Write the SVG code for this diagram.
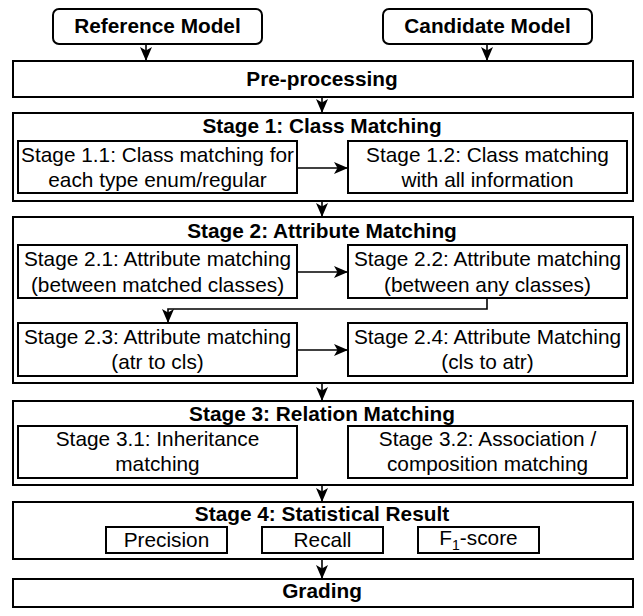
<svg xmlns="http://www.w3.org/2000/svg" width="643" height="616" viewBox="0 0 643 616">
<defs>
<marker id="arr" markerUnits="userSpaceOnUse" markerWidth="15" markerHeight="13" refX="14" refY="6" orient="auto">
<path d="M0,0 L14,6 L0,12 L3.5,6 Z" fill="#000"/>
</marker>
<style>
.box{fill:#fff;stroke:#000;stroke-width:2}
.t{font-family:"Liberation Sans",Arial,sans-serif;font-size:20.8px;fill:#000;text-anchor:middle}
.b{font-weight:bold}
.c{fill:none;stroke:#000;stroke-width:1.6;marker-end:url(#arr)}
</style>
</defs>
<rect width="643" height="616" fill="#fff"/>
<g id="connectors">
<path class="c" d="M146,44 V61"/>
<path class="c" d="M487,44 V61"/>
<path class="c" d="M322,97 V113"/>
<path class="c" d="M322,201 V217"/>
<path class="c" d="M322,383 V401"/>
<path class="c" d="M322,485 V502"/>
<path class="c" d="M322,559 V579"/>
</g>
<g id="reference-model"><rect class="box" x="53" y="9" width="209" height="35" rx="6"/><text class="t b" x="157.5" y="33">Reference Model</text></g>
<g id="candidate-model"><rect class="box" x="383" y="9" width="209" height="35" rx="6"/><text class="t b" x="487.5" y="33">Candidate Model</text></g>
<g id="pre-processing"><rect class="box" x="13" y="61" width="620" height="36"/><text class="t b" x="322" y="86">Pre-processing</text></g>
<g id="stage1"><rect class="box" x="13" y="113" width="620" height="88"/><text class="t b" x="322" y="133">Stage 1: Class Matching</text></g>
<g id="stage1-1"><rect class="box" x="18" y="141" width="279" height="52"/><text class="t" x="157.5" y="162">Stage 1.1: Class matching for</text><text class="t" x="157.5" y="187">each type enum/regular</text></g>
<g id="stage1-2"><rect class="box" x="348" y="141" width="279" height="52"/><text class="t" x="487.5" y="162">Stage 1.2: Class matching</text><text class="t" x="487.5" y="187">with all information</text></g>
<g id="stage2"><rect class="box" x="13" y="217" width="620" height="166"/><text class="t b" x="322" y="238">Stage 2: Attribute Matching</text></g>
<g id="stage2-1"><rect class="box" x="18" y="245" width="279" height="53"/><text class="t" x="157.5" y="266">Stage 2.1: Attribute matching</text><text class="t" x="157.5" y="292">(between matched classes)</text></g>
<g id="stage2-2"><rect class="box" x="348" y="245" width="279" height="53"/><text class="t" x="487.5" y="266">Stage 2.2: Attribute matching</text><text class="t" x="487.5" y="292">(between any classes)</text></g>
<g id="stage2-3"><rect class="box" x="18" y="323" width="279" height="53"/><text class="t" x="157.5" y="344">Stage 2.3: Attribute matching</text><text class="t" x="157.5" y="369">(atr to cls)</text></g>
<g id="stage2-4"><rect class="box" x="348" y="323" width="279" height="53"/><text class="t" x="487.5" y="344">Stage 2.4: Attribute Matching</text><text class="t" x="487.5" y="369">(cls to atr)</text></g>
<g id="stage3"><rect class="box" x="13" y="401" width="620" height="84"/><text class="t b" x="322" y="421">Stage 3: Relation Matching</text></g>
<g id="stage3-1"><rect class="box" x="18" y="426" width="279" height="52"/><text class="t" x="157.5" y="446">Stage 3.1: Inheritance</text><text class="t" x="157.5" y="471">matching</text></g>
<g id="stage3-2"><rect class="box" x="348" y="426" width="279" height="52"/><text class="t" x="487.5" y="446">Stage 3.2: Association /</text><text class="t" x="487.5" y="471">composition matching</text></g>
<g id="stage4"><rect class="box" x="13" y="502" width="620" height="57"/><text class="t b" x="322" y="521">Stage 4: Statistical Result</text></g>
<g id="precision"><rect class="box" x="106" y="527" width="121" height="26"/><text class="t" x="166.5" y="547">Precision</text></g>
<g id="recall"><rect class="box" x="262" y="527" width="121" height="26"/><text class="t" x="322.5" y="547">Recall</text></g>
<g id="f1-score"><rect class="box" x="418" y="527" width="121" height="26"/><text class="t" x="478.5" y="545">F<tspan font-size="14" dy="5">1</tspan><tspan dy="-5">-score</tspan></text></g>
<g id="grading"><rect class="box" x="13" y="579" width="620" height="28"/><text class="t b" x="322" y="598">Grading</text></g>
<g id="connectors-inner">
<path class="c" d="M297,168 H348"/>
<path class="c" d="M297,272 H348"/>
<path class="c" d="M487,298 V309 H168 V323"/>
<path class="c" d="M297,350 H348"/>
</g>
</svg>
